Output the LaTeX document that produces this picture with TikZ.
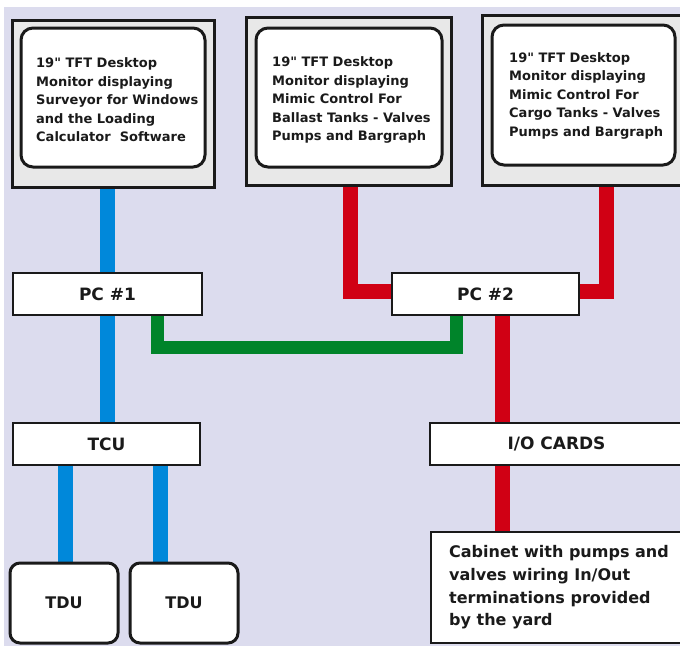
\documentclass[tikz,border=0pt]{standalone}
\usepackage{fontspec}
\setmainfont{DejaVu Sans}[Ligatures=TeXOff]
\pgfdeclarelayer{back}
\pgfdeclarelayer{wires}
\pgfsetlayers{back,wires,main}
\definecolor{bgl}{RGB}{220,220,238}
\definecolor{mgray}{RGB}{232,232,232}
\definecolor{ink}{RGB}{26,26,26}
\definecolor{wblue}{RGB}{0,136,218}
\definecolor{wred}{RGB}{208,0,20}
\definecolor{wgreen}{RGB}{0,132,42}
\newcommand{\sq}{\char34\relax}
\begin{document}
\begin{tikzpicture}[x=1pt,y=-1pt,
  monout/.style={draw=ink, fill=mgray, line width=3pt, inner sep=0pt},
  monin/.style={draw=ink, fill=white, line width=3pt, rounded corners=12pt, inner sep=0pt},
  mtext/.style={anchor=west, align=left, inner sep=0pt, text=ink,
     font=\fontsize{13}{18.5}\selectfont\bfseries},
  box/.style={draw=ink, fill=white, line width=2.5pt, inner sep=0pt, text=ink,
     font=\fontsize{17}{20}\selectfont\bfseries},
  tdubox/.style={box, line width=3pt, rounded corners=10pt, font=\fontsize{16}{20}\selectfont\bfseries},
  wire/.style={line width=15pt, line join=miter},
  gwire/.style={line width=13pt, line join=miter, draw=wgreen}]
\useasboundingbox (0,0) rectangle (680,646);
\clip (0,0) rectangle (680,646);
\begin{pgfonlayer}{back}
  \fill[white] (0,0) rectangle (680,646);
  \fill[bgl] (4,7) rectangle (680,646);
\end{pgfonlayer}

% monitors
\node[monout, minimum width=202pt, minimum height=167pt] (mon1) at (113,103.5) {};
\node[monin, minimum width=184pt, minimum height=139pt] (mon1s) at (113,97.5) {};
\node[mtext] (mon1t) at (36,100) {19\sq{} TFT Desktop\\Monitor displaying\\Surveyor for Windows\\and the Loading\\Calculator\ \ Software};

\node[monout, minimum width=205pt, minimum height=168pt] (mon2) at (348.5,101) {};
\node[monin, minimum width=186pt, minimum height=139pt] (mon2s) at (349,97.5) {};
\node[mtext] (mon2t) at (272,100) {19\sq{} TFT Desktop\\Monitor displaying\\Mimic Control For\\Ballast Tanks - Valves\\Pumps and Bargraph};

\node[monout, minimum width=201pt, minimum height=170pt] (mon3) at (582.5,100) {};
\node[monin, minimum width=183pt, minimum height=140pt] (mon3s) at (583.5,95) {};
\node[mtext] (mon3t) at (509,95.5) {19\sq{} TFT Desktop\\Monitor displaying\\Mimic Control For\\Cargo Tanks - Valves\\Pumps and Bargraph};

% boxes
\node[box, minimum width=189pt, minimum height=42pt] (pc1) at (107.5,294) {PC \#1};
\node[box, minimum width=187pt, minimum height=42pt] (pc2) at (485.5,294) {PC \#2};
\node[box, minimum width=187pt, minimum height=42pt] (tcu) at (106.5,444) {TCU};
\node[box, minimum width=253pt, minimum height=42pt] (io) at (556.5,444) {I/O CARDS};
\node[box, minimum width=252pt, minimum height=111pt] (cab) at (557,587.5) {};
\node[mtext, font=\fontsize{16}{22.7}\selectfont\bfseries] (cabt) at (449,587.5) {Cabinet with pumps and\\valves wiring In/Out\\terminations provided\\by the yard};
\node[tdubox, minimum width=108pt, minimum height=80pt] (tdu1) at (64,603) {TDU};
\node[tdubox, minimum width=108pt, minimum height=80pt] (tdu2) at (184,603) {TDU};

% wires
\begin{pgfonlayer}{wires}
  \draw[wire, wblue] (pc1.north) -- (pc1.north |- mon1.south);
  \draw[wire, wblue] (pc1.south) -- (pc1.south |- tcu.north);
  \draw[wire, wblue] ([xshift=1pt]tdu1.north) -- ([xshift=1pt]tdu1.north |- tcu.south);
  \draw[wire, wblue] ([xshift=-24pt]tdu2.north) -- ([xshift=-24pt]tdu2.north |- tcu.south);
  \draw[gwire] ([xshift=49.5pt]pc1.south) -- ++(0,31.5) -| ([xshift=-29.5pt]pc2.south);
  \draw[wire, wred] ([xshift=1.5pt]mon2.south) |- ([yshift=2.5pt]pc2.west);
  \draw[wire, wred] ([xshift=23.5pt]mon3.south) |- ([yshift=2.5pt]pc2.east);
  \draw[wire, wred] ([xshift=16.5pt]pc2.south) -- ([xshift=16.5pt]pc2.south |- io.north);
  \draw[wire, wred] ([xshift=16.5pt]pc2.south |- io.south) -- ([xshift=16.5pt]pc2.south |- cab.north);
\end{pgfonlayer}
\end{tikzpicture}
\end{document}
